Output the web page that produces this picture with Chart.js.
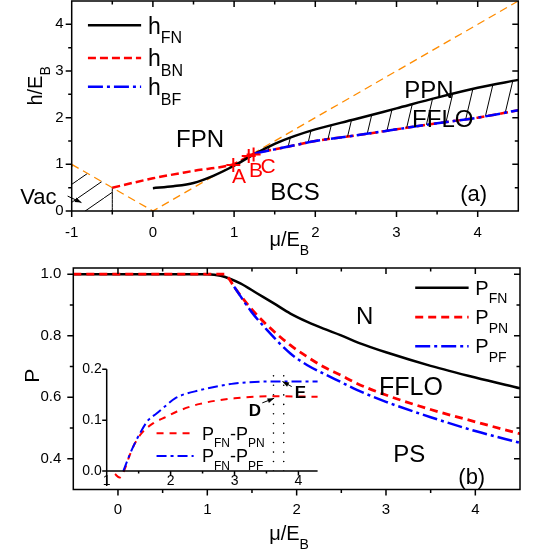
<!DOCTYPE html>
<html lang="en">
<head>
<meta charset="utf-8" />
<title>Phase diagram h-mu and polarization</title>
<script src="https://cdn.jsdelivr.net/npm/chart.js/dist/chart.umd.min.js"></script>
<style>
  html, body { margin: 0; padding: 0; background: #fff; }
  #wrap { position: relative; width: 533px; height: 550px; overflow: hidden; }
  canvas { position: absolute; }
  #chartA { left: 0; top: 0; }
  #chartB { left: 0; top: 255px; }
  #inset { left: 40px; top: 355px; }
</style>
</head>
<body>
<div id="wrap">
  <canvas id="chartA" width="533" height="255"></canvas>
  <canvas id="chartB" width="533" height="295"></canvas>
  <canvas id="inset" width="290" height="145"></canvas>
</div>
<script>
// ---- panel (a) data: h/E_B versus mu/E_B
const muFN = [0, 0.25, 0.5, 0.75, 1, 1.25, 1.5, 1.75, 2, 2.5, 3, 3.5, 4, 4.5];
const hFN = [0.49, 0.53, 0.6, 0.76, 0.97, 1.22, 1.44, 1.61, 1.75, 1.97, 2.2, 2.43, 2.64, 2.81];
const muBN = [-0.5, 0, 0.5, 1, 1.25, 1.5, 1.75, 2, 2.5, 3, 3.5, 4, 4.5];
const hBN = [0.5, 0.7, 0.86, 1.01, 1.23, 1.32, 1.41, 1.5, 1.62, 1.75, 1.88, 2.0, 2.16];
const muBF = [1.25, 1.5, 1.75, 2, 2.5, 3, 3.5, 4, 4.5];
const hBF = [1.23, 1.32, 1.41, 1.5, 1.62, 1.75, 1.88, 2.0, 2.16];
const muVac = [-1, 0, 4.5];          // orange dashed |mu| line
const hVac = [1, 0, 4.5];
const muVacZone = [-1, -0.5];
const hVacZone = [1, 0.5];
const muEdge = [-0.5, -0.5];
const hEdge = [0, 0.5];
const muABC = [0.99, 1.18, 1.24];
const hABC = [0.985, 1.18, 1.21];

// ---- panel (b) data: polarization P versus mu/E_B
const xFN = [-0.5, 0, 0.5, 1, 1.15, 1.37, 1.56, 1.75, 1.93, 2.12, 2.3, 2.49, 2.71, 3, 3.5, 4, 4.5];
const pFN = [1, 1, 1, 1, 0.995, 0.97, 0.937, 0.904, 0.872, 0.845, 0.823, 0.802, 0.775, 0.746, 0.702, 0.664, 0.629];
const xPN = [-0.5, 0, 0.5, 1, 1.19, 1.24, 1.3, 1.49, 1.67, 1.93, 2.12, 2.3, 2.49, 2.68, 3, 3.5, 4, 4.5];
const pPN = [1, 1, 1, 1, 1, 0.986, 0.959, 0.888, 0.834, 0.769, 0.731, 0.699, 0.672, 0.644, 0.607, 0.56, 0.52, 0.481];
const xPF = [1.3, 1.49, 1.67, 1.93, 2.12, 2.3, 2.49, 2.68, 3, 3.5, 4, 4.5];
const pPF = [0.959, 0.879, 0.818, 0.742, 0.704, 0.677, 0.65, 0.623, 0.585, 0.535, 0.49, 0.452];

// ---- inset data: P_FN - P_PN and P_FN - P_PF
const xdPN = [1.13, 1.2, 1.27, 1.36, 1.44, 1.55, 1.73, 1.94, 2.1, 2.46, 3, 3.6, 4.3];
const dPN = [-0.006, -0.013, 0, 0.031, 0.054, 0.075, 0.094, 0.107, 0.117, 0.132, 0.143, 0.147, 0.146];
const xdPF = [1.26, 1.39, 1.52, 1.65, 1.78, 1.94, 2.07, 2.46, 3, 3.6, 4.3];
const dPF = [0, 0.041, 0.074, 0.1, 0.113, 0.13, 0.143, 0.159, 0.172, 0.176, 0.176];
const xDots = [3.61, 3.77];
const yDots = [0, 0.195];

// ticks
const aXTicks = [-1, 0, 1, 2, 3, 4];
const aXMinor = [-0.5, 0.5, 1.5, 2.5, 3.5];
const aYTicks = [0, 1, 2, 3, 4];
const aYMinor = [0.5, 1.5, 2.5, 3.5];
const bXTicks = [0, 1, 2, 3, 4];
const bXMinor = [0.5, 1.5, 2.5, 3.5];
const bYTicks = [0.4, 0.6, 0.8, 1.0];
const bYMinor = [0.5, 0.7, 0.9];
const iXTicks = [1, 2, 3, 4];
const iXMinor = [1.5, 2.5, 3.5];
const iYTicks = [0, 0.1, 0.2];

const FONT = "'Liberation Sans', Arial, sans-serif";
Chart.defaults.font.family = FONT;
Chart.defaults.color = '#000';
Chart.defaults.animation = false;

const pts = (xs, ys) => xs.map((v, i) => ({ x: v, y: ys[i] }));

// hatch pattern: parallel lines rising to the right
function hatch(w, h) {
  const c = document.createElement('canvas');
  c.width = w; c.height = h;
  const g = c.getContext('2d');
  g.strokeStyle = '#000';
  g.lineWidth = 1;
  g.beginPath();
  g.moveTo(0, h); g.lineTo(w, 0);
  g.stroke();
  return g.createPattern(c, 'repeat');
}

// text with _{sub} parts
function rich(ctx, str, X, Y, size, align, color, bold) {
  const segs = [];
  const re = /_\{([^}]*)\}/g;
  let last = 0, m;
  while ((m = re.exec(str))) {
    if (m.index > last) segs.push([str.slice(last, m.index), false]);
    segs.push([m[1], true]);
    last = re.lastIndex;
  }
  if (last < str.length) segs.push([str.slice(last), false]);
  const sub = Math.round(size * 0.68);
  const f = s => (bold ? 'bold ' : '') + s + 'px ' + FONT;
  let w = 0;
  for (const [t, s] of segs) { ctx.font = f(s ? sub : size); w += ctx.measureText(t).width; }
  let cx = align === 'center' ? X - w / 2 : X;
  const base = Y + size * 0.36;
  ctx.fillStyle = color || '#000';
  ctx.textAlign = 'left';
  ctx.textBaseline = 'alphabetic';
  for (const [t, s] of segs) {
    ctx.font = f(s ? sub : size);
    ctx.fillText(t, cx, s ? base + size * 0.42 : base);
    cx += ctx.measureText(t).width;
  }
}

// axes frame, ticks, labels, legend keys and arrows
const deco = {
  id: 'deco',
  afterDraw(chart, args, o) {
    const { ctx, chartArea: a, scales: { x, y } } = chart;
    const px = v => x.getPixelForValue(v), py = v => y.getPixelForValue(v);
    ctx.save();
    ctx.strokeStyle = '#000';
    ctx.lineWidth = 1.5;
    ctx.setLineDash([]);
    ctx.beginPath();
    if (o.frame) {
      ctx.rect(a.left, a.top, a.right - a.left, a.bottom - a.top);
    } else {
      ctx.moveTo(a.left, a.top); ctx.lineTo(a.left, a.bottom + (o.stub || 0));
      ctx.moveTo(a.left, a.bottom); ctx.lineTo(a.right, a.bottom);
    }
    const tx = (vals, len) => vals.forEach(v => {
      const X = px(v);
      ctx.moveTo(X, a.bottom); ctx.lineTo(X, a.bottom + len);
      if (o.frame) { ctx.moveTo(X, a.top); ctx.lineTo(X, a.top + len); }
    });
    const ty = (vals, len) => vals.forEach(v => {
      const Y = py(v);
      ctx.moveTo(a.left - len, Y); ctx.lineTo(a.left, Y);
      if (o.frame) { ctx.moveTo(a.right - len, Y); ctx.lineTo(a.right, Y); }
    });
    tx(o.xMajor, o.major); tx(o.xMinor || [], o.minor);
    ty(o.yMajor, o.major); ty(o.yMinor || [], o.minor);
    ctx.stroke();

    (o.keys || []).forEach(k => {
      ctx.beginPath();
      ctx.strokeStyle = k.color;
      ctx.lineWidth = k.w;
      ctx.setLineDash(k.dash);
      ctx.moveTo(px(k.x1), py(k.y)); ctx.lineTo(px(k.x2), py(k.y));
      ctx.stroke();
      ctx.setLineDash([]);
      rich(ctx, k.t, px(k.tx), py(k.y), k.size, 'left', '#000');
    });

    (o.arrows || []).forEach(r => {
      const X1 = px(r.x1), Y1 = py(r.y1), X2 = px(r.x2), Y2 = py(r.y2);
      const ang = Math.atan2(Y2 - Y1, X2 - X1);
      ctx.strokeStyle = '#000'; ctx.fillStyle = '#000'; ctx.lineWidth = 1;
      ctx.beginPath(); ctx.moveTo(X1, Y1); ctx.lineTo(X2, Y2); ctx.stroke();
      ctx.beginPath();
      ctx.moveTo(X2, Y2);
      ctx.lineTo(X2 - 7 * Math.cos(ang - 0.35), Y2 - 7 * Math.sin(ang - 0.35));
      ctx.lineTo(X2 - 7 * Math.cos(ang + 0.35), Y2 - 7 * Math.sin(ang + 0.35));
      ctx.closePath(); ctx.fill();
    });

    (o.notes || []).forEach(n => {
      if (n.rot) {
        ctx.save();
        ctx.translate(px(n.x), py(n.y));
        ctx.rotate(-Math.PI / 2);
        rich(ctx, n.t, 0, 0, n.size, 'center', n.color, n.bold);
        ctx.restore();
      } else {
        rich(ctx, n.t, px(n.x), py(n.y), n.size, n.align || 'center', n.color, n.bold);
      }
    });
    ctx.restore();
  }
};

// fixed-size axis; no extra padding for half labels
function axis(min, max, ticks, fmt, pad, size, fit) {
  return {
    type: 'linear', min, max,
    grid: { display: false, drawTicks: false },
    border: { display: false },
    ticks: { padding: pad, autoSkip: false, maxRotation: 0, font: { size }, color: '#000', callback: fmt },
    afterBuildTicks: s => { s.ticks = ticks.map(v => ({ value: v })); },
    afterFit: s => {
      fit(s);
      s.paddingTop = 0; s.paddingBottom = 0; s.paddingLeft = 0; s.paddingRight = 0;
    }
  };
}

const baseOpts = {
  responsive: false,
  devicePixelRatio: 1,
  animation: false,
  events: [],
  plugins: { legend: { display: false }, tooltip: { enabled: false } }
};

const line = (data, color, width, dash, extra) => Object.assign({
  data, showLine: true, borderColor: color, borderWidth: width, borderDash: dash,
  pointRadius: 0, fill: false, cubicInterpolationMode: 'monotone'
}, extra || {});

// ---- panel (a)
new Chart(document.getElementById('chartA'), {
  type: 'scatter',
  data: {
    datasets: [
      line(pts(muFN, hFN), '#000', 2.5, [], { order: 1 }),
      line(pts(muBF, hBF), '#0000ff', 2.5, [15, 4, 3, 4], { order: 0, fill: { target: 0 }, backgroundColor: hatch(19, 80) }),
      line(pts(muBN, hBN), '#ff0000', 2.5, [8, 4], { order: 2 }),
      line(pts(muVac, hVac), '#ff8c00', 1.3, [8, 5], { order: 5, cubicInterpolationMode: 'default', tension: 0 }),
      line(pts(muVacZone, hVacZone), 'rgba(0,0,0,0)', 0, [], { order: 6, fill: 'origin', backgroundColor: hatch(26, 18), tension: 0 }),
      line(pts(muEdge, hEdge), '#000', 1, [], { order: 4, tension: 0 }),
      { data: pts(muABC, hABC), pointStyle: 'cross', pointRadius: 7, borderColor: '#ff0000', borderWidth: 2, showLine: false, order: -1 }
    ]
  },
  options: Object.assign({}, baseOpts, {
    layout: { autoPadding: false, padding: { left: 0, right: 14.7, top: 1, bottom: 0 } },
    scales: {
      x: axis(-1, 4.5, aXTicks, v => String(v), 13, 15, s => { s.height = 44; }),
      y: axis(0, 4.5, aYTicks, v => String(v), 8, 15, s => { s.width = 71.7; })
    },
    plugins: Object.assign({}, baseOpts.plugins, {
      deco: {
        frame: true, major: 6, minor: 3.5,
        xMajor: aXTicks, xMinor: aXMinor, yMajor: aYTicks, yMinor: aYMinor,
        keys: [
          { x1: -0.8, x2: -0.145, y: 3.98, color: '#000', w: 2.5, dash: [], tx: -0.06, t: 'h_{FN}', size: 23 },
          { x1: -0.8, x2: -0.145, y: 3.28, color: '#ff0000', w: 2.5, dash: [8, 4], tx: -0.06, t: 'h_{BN}', size: 23 },
          { x1: -0.8, x2: -0.145, y: 2.66, color: '#0000ff', w: 2.5, dash: [15, 4, 3, 4], tx: -0.06, t: 'h_{BF}', size: 23 }
        ],
        arrows: [{ x1: -1.05, y1: 0.32, x2: -0.88, y2: 0.18 }],
        notes: [
          { t: 'FPN', x: 0.58, y: 1.56, size: 24 },
          { t: 'BCS', x: 1.75, y: 0.43, size: 24 },
          { t: 'PPN', x: 3.4, y: 2.61, size: 24 },
          { t: 'FFLO', x: 3.57, y: 1.99, size: 24 },
          { t: '(a)', x: 3.95, y: 0.385, size: 22 },
          { t: 'A', x: 1.06, y: 0.77, size: 21, color: '#ff0000' },
          { t: 'B', x: 1.27, y: 0.9, size: 21, color: '#ff0000' },
          { t: 'C', x: 1.42, y: 0.985, size: 21, color: '#ff0000' },
          { t: 'Vac', x: -1.41, y: 0.32, size: 22 },
          { t: 'h/E_{B}', x: -1.46, y: 2.68, size: 20, rot: true },
          { t: '\u03bc/E_{B}', x: 1.68, y: -0.6, size: 20 }
        ]
      }
    })
  }),
  plugins: [deco]
});

// ---- panel (b)
new Chart(document.getElementById('chartB'), {
  type: 'scatter',
  data: {
    datasets: [
      line(pts(xPF, pPF), '#0000ff', 2.5, [15, 4, 3, 4], { order: 0 }),
      line(pts(xPN, pPN), '#ff0000', 2.8, [8, 5], { order: 1 }),
      line(pts(xFN, pFN), '#000', 2.5, [], { order: 2 })
    ]
  },
  options: Object.assign({}, baseOpts, {
    layout: { autoPadding: false, padding: { left: 0, right: 13, top: 13, bottom: 0 } },
    scales: {
      x: axis(-0.5, 4.5, bXTicks, v => String(v), 11, 15, s => { s.height = 60.5; }),
      y: axis(0.3, 1.02, bYTicks, v => v.toFixed(1), 12, 15, s => { s.width = 73.3; })
    },
    plugins: Object.assign({}, baseOpts.plugins, {
      deco: {
        frame: true, major: 6, minor: 3.5,
        xMajor: bXTicks, xMinor: bXMinor, yMajor: bYTicks, yMinor: bYMinor,
        keys: [
          { x1: 3.327, x2: 3.925, y: 0.956, color: '#000', w: 2.5, dash: [], tx: 4.0, t: 'P_{FN}', size: 20 },
          { x1: 3.327, x2: 3.925, y: 0.86, color: '#ff0000', w: 2.8, dash: [8, 5], tx: 4.0, t: 'P_{PN}', size: 20 },
          { x1: 3.327, x2: 3.925, y: 0.766, color: '#0000ff', w: 2.5, dash: [15, 4, 3, 4], tx: 4.0, t: 'P_{PF}', size: 20 }
        ],
        notes: [
          { t: 'N', x: 2.76, y: 0.866, size: 24 },
          { t: 'FFLO', x: 3.28, y: 0.637, size: 25 },
          { t: 'PS', x: 3.26, y: 0.419, size: 24 },
          { t: '(b)', x: 3.96, y: 0.343, size: 22 },
          { t: 'P', x: -0.968, y: 0.67, size: 21, rot: true },
          { t: '\u03bc/E_{B}', x: 1.915, y: 0.158, size: 20 }
        ]
      }
    })
  }),
  plugins: [deco]
});

// ---- inset
new Chart(document.getElementById('inset'), {
  type: 'scatter',
  data: {
    datasets: [
      line(pts(xdPF, dPF), '#0000ff', 2, [10, 4, 3, 4], { order: 0, clip: false }),
      line(pts(xdPN, dPN), '#ff0000', 2, [7, 6], { order: 1, clip: false }),
      line(pts([xDots[0], xDots[0]], yDots), '#000', 1.6, [0.01, 9.5], { order: 2, borderCapStyle: 'round', tension: 0 }),
      line(pts([xDots[1], xDots[1]], yDots), '#000', 1.6, [0.01, 9.5], { order: 2, borderCapStyle: 'round', tension: 0 })
    ]
  },
  options: Object.assign({}, baseOpts, {
    layout: { autoPadding: false, padding: { left: 0, right: 12.4, top: 14.3, bottom: 0 } },
    scales: {
      x: axis(1, 4.3, iXTicks, v => String(v), 2, 14, s => { s.height = 29; }),
      y: axis(0, 0.2, iYTicks, v => v.toFixed(1), 5, 14, s => { s.width = 66.7; })
    },
    plugins: Object.assign({}, baseOpts.plugins, {
      deco: {
        frame: false, stub: 15, major: 4.5, minor: 2.5,
        xMajor: iXTicks, xMinor: iXMinor, yMajor: iYTicks, yMinor: [],
        keys: [
          { x1: 1.78, x2: 2.36, y: 0.074, color: '#ff0000', w: 2, dash: [7, 6], tx: 2.49, t: 'P_{FN}-P_{PN}', size: 18 },
          { x1: 1.78, x2: 2.36, y: 0.0295, color: '#0000ff', w: 2, dash: [10, 4, 3, 4], tx: 2.49, t: 'P_{FN}-P_{PF}', size: 18 }
        ],
        arrows: [
          { x1: 3.435, y1: 0.134, x2: 3.62, y2: 0.143 },
          { x1: 3.895, y1: 0.166, x2: 3.75, y2: 0.176 }
        ],
        notes: [
          { t: 'D', x: 3.32, y: 0.121, size: 17, bold: true },
          { t: 'E', x: 4.03, y: 0.156, size: 17, bold: true }
        ]
      }
    })
  }),
  plugins: [deco]
});
</script>
</body>
</html>
